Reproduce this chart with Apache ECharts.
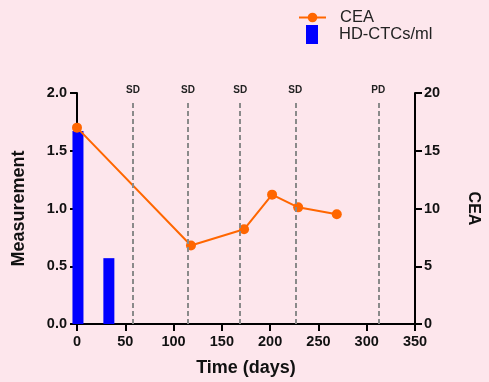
<!DOCTYPE html>
<html><head><meta charset="utf-8">
<script src="https://cdn.jsdelivr.net/npm/echarts@6/dist/echarts.min.js"></script>
<style>html,body{margin:0;padding:0;background:#fde6ec;}#c{width:489px;height:382px;}</style>
</head><body><div id="c"></div>
<script>
const ceaDays = [0, 118, 173, 202, 229, 269];
const ceaValues = [17.0, 6.8, 8.2, 11.2, 10.1, 9.5];
const ctcDays = [1, 33];
const ctcValues = [1.67, 0.57];
const statusDays = [58, 115, 169, 226, 312];
const statusLabels = ['SD', 'SD', 'SD', 'SD', 'PD'];
const xTicks = [0, 50, 100, 150, 200, 250, 300, 350];

const font = 'Liberation Sans, Arial, sans-serif';
const chart = echarts.init(document.getElementById('c'));
const tick = () => ({show: true, length: 7, lineStyle: {color: '#000', width: 2}});
chart.setOption({
  backgroundColor: '#fde6ec',
  animation: false,
  textStyle: {fontFamily: font},
  legend: [
    {data: ['CEA'], left: 293, top: 4, itemWidth: 27, itemHeight: 12,
     textStyle: {fontFamily: font, fontSize: 16.5, color: '#222', padding: [0,0,0,9]}},
    {data: [{name: 'HD-CTCs/ml', icon: 'rect'}], left: 301, top: 20, itemWidth: 12, itemHeight: 19,
     textStyle: {fontFamily: font, fontSize: 16.5, color: '#222', padding: [0,0,0,16]}}
  ],
  grid: {left: 77, right: 72, top: 93, bottom: 56},
  xAxis: {
    type: 'value', min: 0, max: 350, interval: 50,
    name: 'Time (days)', nameLocation: 'middle', nameGap: 35,
    nameTextStyle: {fontFamily: font, fontSize: 18, fontWeight: 'bold', color: '#111'},
    axisLine: {show: true, lineStyle: {color: '#000', width: 2}},
    axisTick: tick(),
    axisLabel: {fontFamily: font, fontSize: 14.5, fontWeight: 'bold', color: '#111', margin: 10,
      formatter: v => xTicks.includes(v) ? String(v) : ''},
    splitLine: {show: false}
  },
  yAxis: [
    {type: 'value', min: 0, max: 2, interval: 0.5, position: 'left',
     name: 'Measurement', nameLocation: 'middle', nameGap: 49,
     nameTextStyle: {fontFamily: font, fontSize: 18, fontWeight: 'bold', color: '#111'},
     axisLine: {show: true, lineStyle: {color: '#000', width: 2}},
     axisTick: tick(),
     axisLabel: {fontFamily: font, fontSize: 14.5, fontWeight: 'bold', color: '#111', margin: 10,
       formatter: v => v.toFixed(1)},
     splitLine: {show: false}},
    {type: 'value', min: 0, max: 20, interval: 5, position: 'right',
     name: 'CEA', nameLocation: 'middle', nameGap: 50, nameRotate: -90,
     nameTextStyle: {fontFamily: font, fontSize: 16, fontWeight: 'bold', color: '#111'},
     axisLine: {show: true, lineStyle: {color: '#000', width: 2}},
     axisTick: tick(),
     axisLabel: {fontFamily: font, fontSize: 14.5, fontWeight: 'bold', color: '#111', margin: 9},
     splitLine: {show: false}}
  ],
  series: [
    {name: 'HD-CTCs/ml', type: 'bar', yAxisIndex: 0, barWidth: 11,
     itemStyle: {color: '#0000ff'},
     data: ctcDays.map((d, i) => [d, ctcValues[i]]), z: 2},
    {name: 'CEA', type: 'line', yAxisIndex: 1, symbol: 'circle', symbolSize: 10,
     lineStyle: {color: '#ff6600', width: 2}, itemStyle: {color: '#ff6600'},
     data: ceaDays.map((d, i) => [d, ceaValues[i]]), z: 4,
     markLine: {
       silent: true, symbol: 'none', animation: false,
       lineStyle: {color: '#8a8a8a', type: [5, 3], width: 2},
       label: {show: true, position: 'end', formatter: '{b}', fontFamily: font,
         fontSize: 10, fontWeight: 'bold', color: '#222', distance: 6},
       data: statusDays.map((d, i) => [
         {name: statusLabels[i], coord: [d, 0]},
         {coord: [d, 19.3]}
       ])
     }}
  ]
});
</script></body></html>
